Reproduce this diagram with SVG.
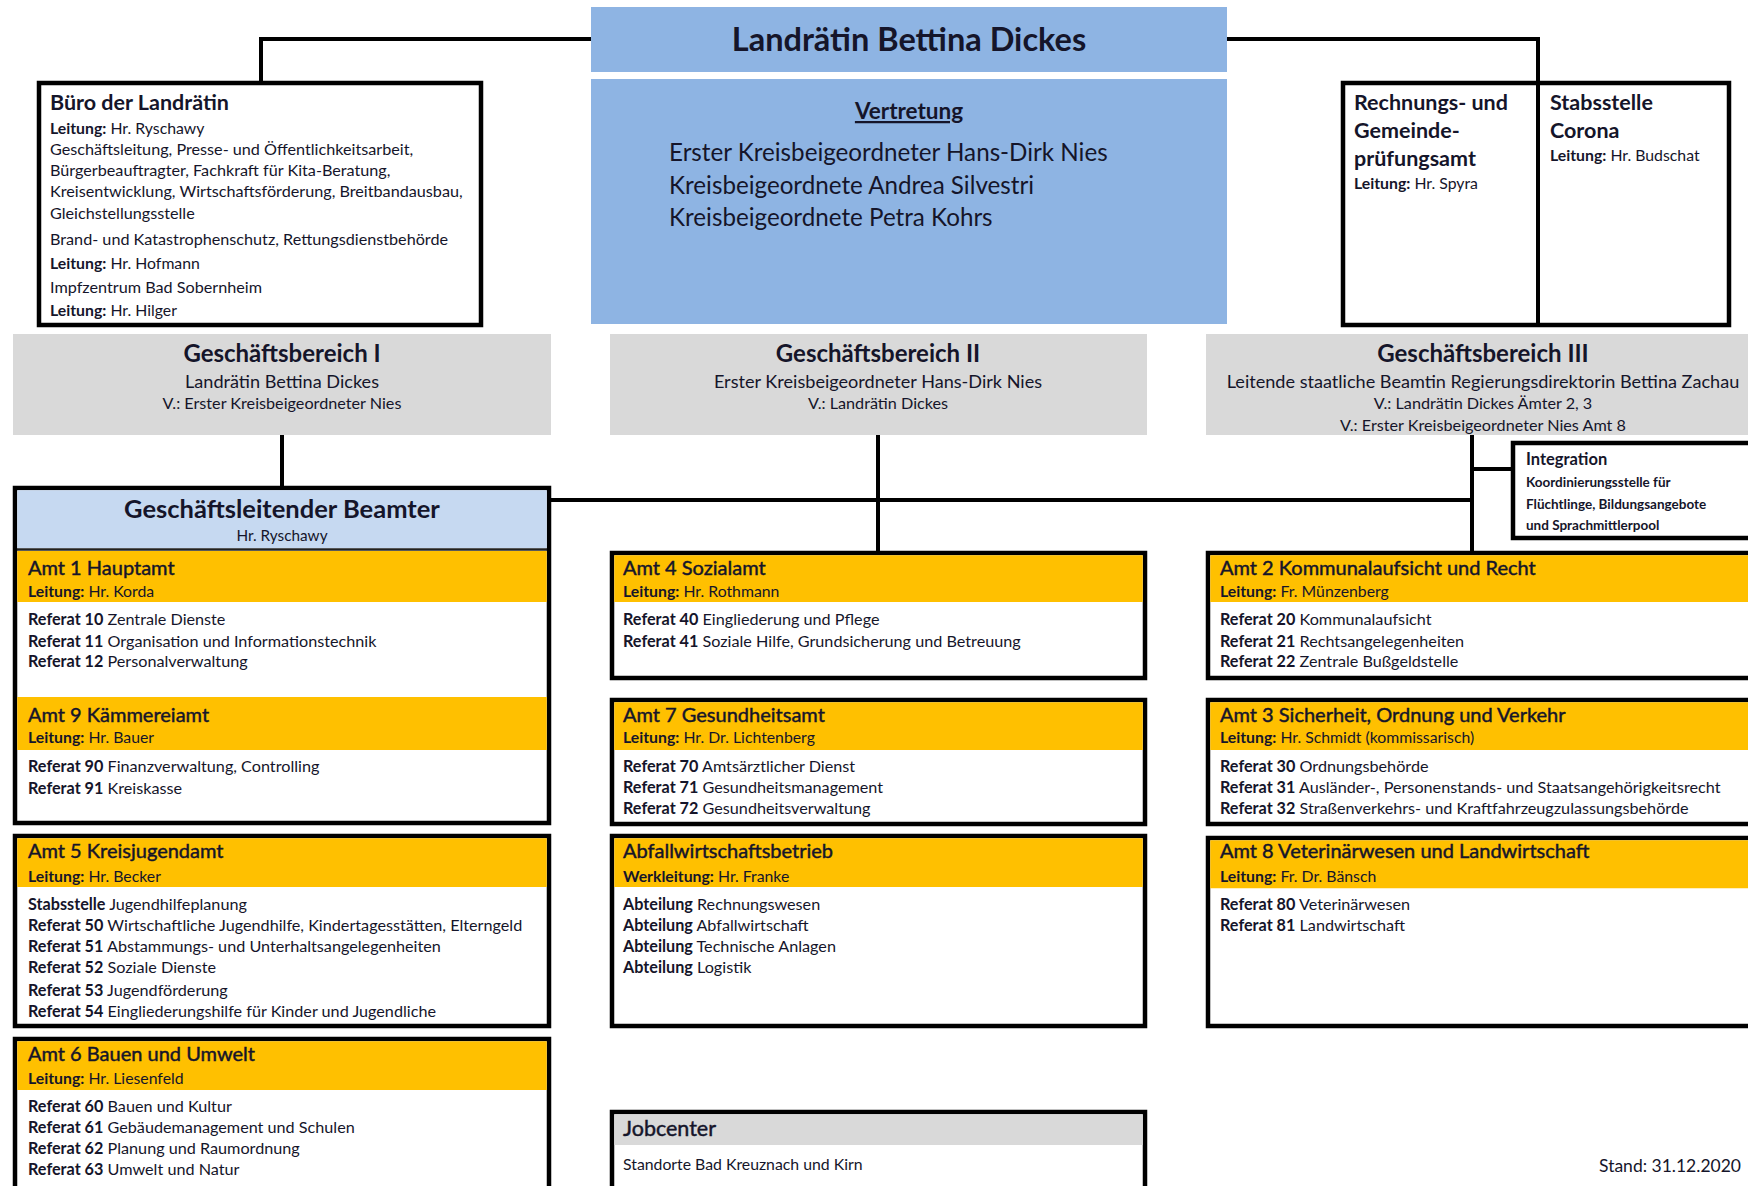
<svg xmlns="http://www.w3.org/2000/svg" width="1748" height="1186" viewBox="0 0 1748 1186">
<style>
  text { font-family: Lato, "Liberation Sans", sans-serif; fill: #15152a; }
  .b { font-weight: bold; }
  .frame { fill: #fff; stroke: #000; stroke-width: 4.5; }
  .hd { fill: #ffc000; }
  .grey { fill: #d9d9d9; }
  .blue { fill: #8eb4e3; }
  .lblue { fill: #c6d9f1; }
  .conn { fill: none; stroke: #000; stroke-width: 4; }
  .t1 { font-size: 32.5px; font-weight: bold; }
  .gb { font-size: 24px; font-weight: bold; }
  .gbs { font-size: 18.1px; }
  .gbv { font-size: 16.2px; }
  .amt { font-size: 20px; stroke: #15152a; stroke-width: 0.45px; }
  .lt { font-size: 15.8px; }
  .ref { font-size: 16.2px; }
  .sm { font-size: 13.5px; font-weight: bold; }
  .vt { font-size: 24.2px; }
  .rh { font-size: 21.5px; font-weight: bold; }
</style>

<!-- connectors -->
<g id="connectors">
  <path class="conn" d="M261,83 V39 H591"/>
  <path class="conn" d="M1227,39 H1538 V325"/>
  <path class="conn" d="M282,435 V488"/>
  <path class="conn" d="M549,500 H1472"/>
  <path class="conn" d="M878,435 V553"/>
  <path class="conn" d="M1472,435 V553"/>
  <path class="conn" d="M1472,469 H1513"/>
</g>

<!-- head -->
<g id="landraetin">
  <rect class="blue" x="591" y="7" width="636" height="65"/>
  <text class="t1" x="909" y="51" text-anchor="middle">Landrätin Bettina Dickes</text>
</g>
<g id="vertretung">
  <rect class="blue" x="591" y="79" width="636" height="245"/>
  <text x="909" y="119" text-anchor="middle" class="b" font-size="22.5" text-decoration="underline">Vertretung</text>
  <text class="vt" x="669" y="161">Erster Kreisbeigeordneter Hans-Dirk Nies</text>
  <text class="vt" x="669" y="193.5">Kreisbeigeordnete Andrea Silvestri</text>
  <text class="vt" x="669" y="226">Kreisbeigeordnete Petra Kohrs</text>
</g>

<!-- office of the district administrator -->
<g id="buero">
  <rect class="frame" x="39" y="83" width="442" height="242"/>
  <text x="50" y="110" class="b" font-size="21.5">Büro der Landrätin</text>
  <text x="50" y="133.5" class="lt"><tspan class="b">Leitung:</tspan> Hr. Ryschawy</text>
  <text x="50" y="155" class="ref">Geschäftsleitung, Presse- und Öffentlichkeitsarbeit,</text>
  <text x="50" y="176" class="ref">Bürgerbeauftragter, Fachkraft für Kita-Beratung,</text>
  <text x="50" y="197.3" class="ref">Kreisentwicklung, Wirtschaftsförderung, Breitbandausbau,</text>
  <text x="50" y="218.5" class="ref">Gleichstellungsstelle</text>
  <text x="50" y="245.3" class="ref">Brand- und Katastrophenschutz, Rettungsdienstbehörde</text>
  <text x="50" y="268.7" class="lt"><tspan class="b">Leitung:</tspan> Hr. Hofmann</text>
  <text x="50" y="293.2" class="ref">Impfzentrum Bad Sobernheim</text>
  <text x="50" y="315.5" class="lt"><tspan class="b">Leitung:</tspan> Hr. Hilger</text>
</g>

<!-- audit office and Corona unit -->
<g id="rechnungspruefung">
  <rect class="frame" x="1343" y="83" width="386" height="242"/>
  <text x="1354" y="110" class="rh">Rechnungs- und</text>
  <text x="1354" y="138" class="rh">Gemeinde-</text>
  <text x="1354" y="166" class="rh">prüfungsamt</text>
  <text x="1354" y="189" class="lt"><tspan class="b">Leitung:</tspan> Hr. Spyra</text>
</g>
<g id="stabsstelle-corona">
  <line x1="1538" y1="83" x2="1538" y2="325" stroke="#000" stroke-width="4"/>
  <text x="1550" y="110" class="rh">Stabsstelle</text>
  <text x="1550" y="138" class="rh">Corona</text>
  <text x="1550" y="161" class="lt"><tspan class="b">Leitung:</tspan> Hr. Budschat</text>
</g>

<!-- divisions -->
<g id="gb1">
  <rect class="grey" x="13" y="334" width="538" height="101"/>
  <text class="gb" x="282" y="362" text-anchor="middle">Geschäftsbereich I</text>
  <text class="gbs" x="282" y="387.5" text-anchor="middle">Landrätin Bettina Dickes</text>
  <text class="gbv" x="282" y="409" text-anchor="middle">V.: Erster Kreisbeigeordneter Nies</text>
</g>
<g id="gb2">
  <rect class="grey" x="610" y="334" width="537" height="101"/>
  <text class="gb" x="878" y="362" text-anchor="middle">Geschäftsbereich II</text>
  <text class="gbs" x="878" y="387.5" text-anchor="middle">Erster Kreisbeigeordneter Hans-Dirk Nies</text>
  <text class="gbv" x="878" y="409" text-anchor="middle">V.: Landrätin Dickes</text>
</g>
<g id="gb3">
  <rect class="grey" x="1206" y="334" width="542" height="101"/>
  <text class="gb" x="1483" y="362" text-anchor="middle">Geschäftsbereich III</text>
  <text class="gbs" x="1483" y="387.5" text-anchor="middle">Leitende staatliche Beamtin Regierungsdirektorin Bettina Zachau</text>
  <text class="gbv" x="1483" y="409" text-anchor="middle">V.: Landrätin Dickes Ämter 2, 3</text>
  <text class="gbv" x="1483" y="431" text-anchor="middle">V.: Erster Kreisbeigeordneter Nies Amt 8</text>
</g>

<g id="integration">
  <rect class="frame" x="1513" y="443" width="260" height="95"/>
  <text x="1526" y="465" class="sm" style="font-size:16.5px">Integration</text>
  <text x="1526" y="486.5" class="sm">Koordinierungsstelle für</text>
  <text x="1526" y="508.5" class="sm">Flüchtlinge, Bildungsangebote</text>
  <text x="1526" y="529.5" class="sm">und Sprachmittlerpool</text>
</g>

<!-- column 1 -->
<g id="geschaeftsleitender-beamter">
  <rect class="frame" x="15" y="488" width="534" height="335"/>
  <rect class="lblue" x="17.25" y="490.25" width="529.5" height="58"/>
  <line x1="17" y1="549.5" x2="547" y2="549.5" stroke="#222" stroke-width="2.5"/>
  <text x="282" y="518" text-anchor="middle" class="b" font-size="25.5">Geschäftsleitender Beamter</text>
  <text x="282" y="540.5" text-anchor="middle" font-size="15.3">Hr. Ryschawy</text>
</g>
<g id="amt1">
  <rect class="hd" x="17.25" y="551" width="529.5" height="51"/>
  <text x="28" y="574.5" class="amt">Amt 1 Hauptamt</text>
  <text x="28" y="597" class="lt"><tspan class="b">Leitung:</tspan> Hr. Korda</text>
  <text x="28" y="624.5" class="ref"><tspan class="b">Referat 10</tspan> Zentrale Dienste</text>
  <text x="28" y="646.5" class="ref"><tspan class="b">Referat 11</tspan> Organisation und Informationstechnik</text>
  <text x="28" y="667" class="ref"><tspan class="b">Referat 12</tspan> Personalverwaltung</text>
</g>
<g id="amt9">
  <rect class="hd" x="17.25" y="697" width="529.5" height="53"/>
  <text x="28" y="721.7" class="amt">Amt 9 Kämmereiamt</text>
  <text x="28" y="743.3" class="lt"><tspan class="b">Leitung:</tspan> Hr. Bauer</text>
  <text x="28" y="771.5" class="ref"><tspan class="b">Referat 90</tspan> Finanzverwaltung, Controlling</text>
  <text x="28" y="793.7" class="ref"><tspan class="b">Referat 91</tspan> Kreiskasse</text>
</g>
<g id="amt5">
  <rect class="frame" x="15" y="836" width="534" height="190"/>
  <rect class="hd" x="17.25" y="838.25" width="529.5" height="48.75"/>
  <text x="28" y="857.7" class="amt">Amt 5 Kreisjugendamt</text>
  <text x="28" y="881.5" class="lt"><tspan class="b">Leitung:</tspan> Hr. Becker</text>
  <text x="28" y="909.7" class="ref"><tspan class="b">Stabsstelle</tspan> Jugendhilfeplanung</text>
  <text x="28" y="930.9" class="ref"><tspan class="b">Referat 50</tspan> Wirtschaftliche Jugendhilfe, Kindertagesstätten, Elterngeld</text>
  <text x="28" y="952.1" class="ref"><tspan class="b">Referat 51</tspan> Abstammungs- und Unterhaltsangelegenheiten</text>
  <text x="28" y="973.2" class="ref"><tspan class="b">Referat 52</tspan> Soziale Dienste</text>
  <text x="28" y="995.5" class="ref"><tspan class="b">Referat 53</tspan> Jugendförderung</text>
  <text x="28" y="1016.7" class="ref"><tspan class="b">Referat 54</tspan> Eingliederungshilfe für Kinder und Jugendliche</text>
</g>
<g id="amt6">
  <rect class="frame" x="15" y="1039" width="534" height="160"/>
  <rect class="hd" x="17.25" y="1041.25" width="529.5" height="48.75"/>
  <text x="28" y="1060.6" class="amt">Amt 6 Bauen und Umwelt</text>
  <text x="28" y="1084.4" class="lt"><tspan class="b">Leitung:</tspan> Hr. Liesenfeld</text>
  <text x="28" y="1111.5" class="ref"><tspan class="b">Referat 60</tspan> Bauen und Kultur</text>
  <text x="28" y="1132.7" class="ref"><tspan class="b">Referat 61</tspan> Gebäudemanagement und Schulen</text>
  <text x="28" y="1153.7" class="ref"><tspan class="b">Referat 62</tspan> Planung und Raumordnung</text>
  <text x="28" y="1175" class="ref"><tspan class="b">Referat 63</tspan> Umwelt und Natur</text>
</g>

<!-- column 2 -->
<g id="amt4">
  <rect class="frame" x="612" y="553" width="533" height="125"/>
  <rect class="hd" x="614.25" y="555.25" width="528.5" height="46.75"/>
  <text x="623" y="574.5" class="amt">Amt 4 Sozialamt</text>
  <text x="623" y="597" class="lt"><tspan class="b">Leitung:</tspan> Hr. Rothmann</text>
  <text x="623" y="624.5" class="ref"><tspan class="b">Referat 40</tspan> Eingliederung und Pflege</text>
  <text x="623" y="646.5" class="ref"><tspan class="b">Referat 41</tspan> Soziale Hilfe, Grundsicherung und Betreuung</text>
</g>
<g id="amt7">
  <rect class="frame" x="612" y="700" width="533" height="124"/>
  <rect class="hd" x="614.25" y="702.25" width="528.5" height="47.75"/>
  <text x="623" y="721.7" class="amt">Amt 7 Gesundheitsamt</text>
  <text x="623" y="743.3" class="lt"><tspan class="b">Leitung:</tspan> Hr. Dr. Lichtenberg</text>
  <text x="623" y="771.5" class="ref"><tspan class="b">Referat 70</tspan> Amtsärztlicher Dienst</text>
  <text x="623" y="792.7" class="ref"><tspan class="b">Referat 71</tspan> Gesundheitsmanagement</text>
  <text x="623" y="813.7" class="ref"><tspan class="b">Referat 72</tspan> Gesundheitsverwaltung</text>
</g>
<g id="abfallwirtschaftsbetrieb">
  <rect class="frame" x="612" y="836" width="533" height="190"/>
  <rect class="hd" x="614.25" y="838.25" width="528.5" height="48.75"/>
  <text x="623" y="857.7" class="amt">Abfallwirtschaftsbetrieb</text>
  <text x="623" y="881.5" class="lt"><tspan class="b">Werkleitung:</tspan> Hr. Franke</text>
  <text x="623" y="909.7" class="ref"><tspan class="b">Abteilung</tspan> Rechnungswesen</text>
  <text x="623" y="930.9" class="ref"><tspan class="b">Abteilung</tspan> Abfallwirtschaft</text>
  <text x="623" y="952.1" class="ref"><tspan class="b">Abteilung</tspan> Technische Anlagen</text>
  <text x="623" y="973.2" class="ref"><tspan class="b">Abteilung</tspan> Logistik</text>
</g>
<g id="jobcenter">
  <rect class="frame" x="612" y="1112" width="533" height="90"/>
  <rect class="grey" x="614.25" y="1114.25" width="528.5" height="30.75"/>
  <text x="623" y="1136" class="amt" style="font-size:21.5px">Jobcenter</text>
  <text x="623" y="1170.3" class="lt">Standorte Bad Kreuznach und Kirn</text>
</g>

<!-- column 3 -->
<g id="amt2">
  <rect class="frame" x="1208" y="553" width="560" height="125"/>
  <rect class="hd" x="1210.25" y="555.25" width="555" height="46.75"/>
  <text x="1220" y="574.5" class="amt">Amt 2 Kommunalaufsicht und Recht</text>
  <text x="1220" y="597" class="lt"><tspan class="b">Leitung:</tspan> Fr. Münzenberg</text>
  <text x="1220" y="624.5" class="ref"><tspan class="b">Referat 20</tspan> Kommunalaufsicht</text>
  <text x="1220" y="646.5" class="ref"><tspan class="b">Referat 21</tspan> Rechtsangelegenheiten</text>
  <text x="1220" y="667" class="ref"><tspan class="b">Referat 22</tspan> Zentrale Bußgeldstelle</text>
</g>
<g id="amt3">
  <rect class="frame" x="1208" y="700" width="560" height="124"/>
  <rect class="hd" x="1210.25" y="702.25" width="555" height="47.75"/>
  <text x="1220" y="721.7" class="amt">Amt 3 Sicherheit, Ordnung und Verkehr</text>
  <text x="1220" y="743.3" class="lt"><tspan class="b">Leitung:</tspan> Hr. Schmidt (kommissarisch)</text>
  <text x="1220" y="771.5" class="ref"><tspan class="b">Referat 30</tspan> Ordnungsbehörde</text>
  <text x="1220" y="792.7" class="ref"><tspan class="b">Referat 31</tspan> Ausländer-, Personenstands- und Staatsangehörigkeitsrecht</text>
  <text x="1220" y="813.7" class="ref"><tspan class="b">Referat 32</tspan> Straßenverkehrs- und Kraftfahrzeugzulassungsbehörde</text>
</g>
<g id="amt8">
  <rect class="frame" x="1208" y="838" width="560" height="188"/>
  <rect class="hd" x="1210.25" y="840.25" width="555" height="48"/>
  <text x="1220" y="857.7" class="amt">Amt 8 Veterinärwesen und Landwirtschaft</text>
  <text x="1220" y="881.5" class="lt"><tspan class="b">Leitung:</tspan> Fr. Dr. Bänsch</text>
  <text x="1220" y="909.7" class="ref"><tspan class="b">Referat 80</tspan> Veterinärwesen</text>
  <text x="1220" y="930.9" class="ref"><tspan class="b">Referat 81</tspan> Landwirtschaft</text>
</g>

<text x="1741" y="1171.5" text-anchor="end" font-size="17.5">Stand: 31.12.2020</text>
</svg>
